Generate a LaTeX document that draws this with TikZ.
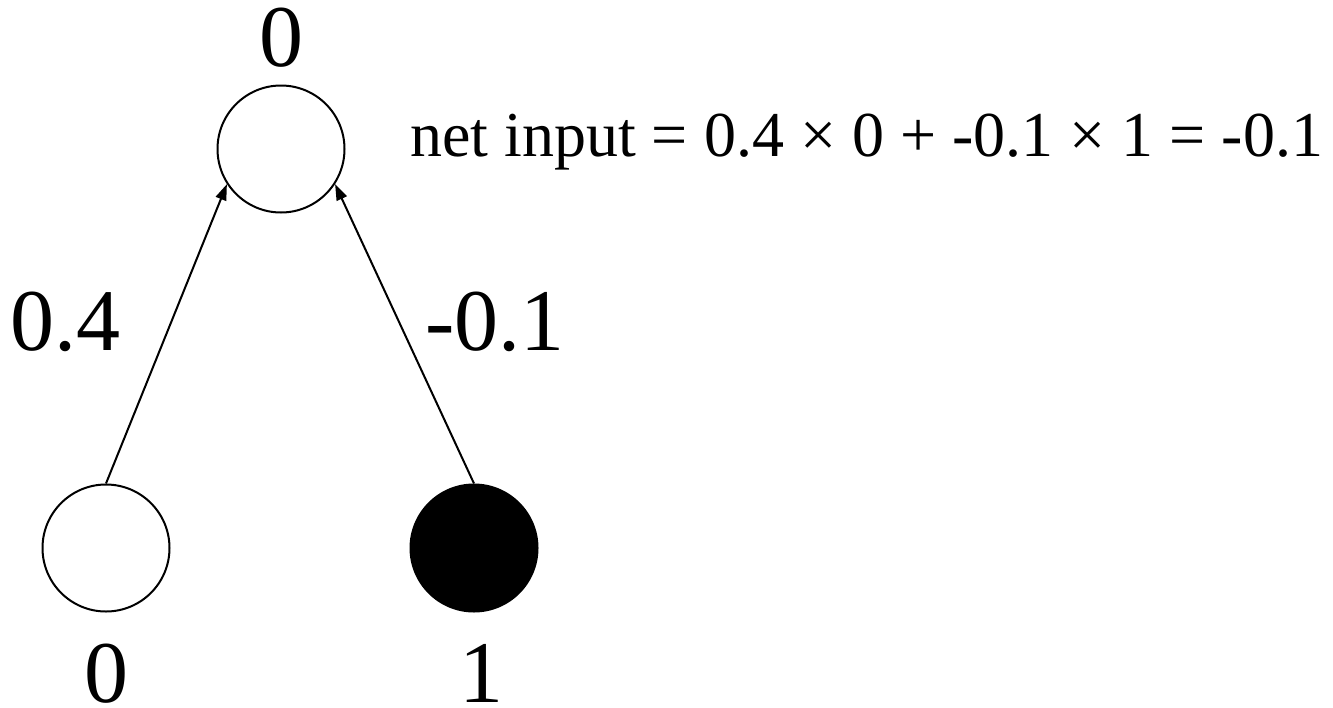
\documentclass[tikz,border=0pt]{standalone}
\usepackage{fontspec}
\setmainfont{Liberation Serif}
\usetikzlibrary{arrows.meta}
\begin{document}
\begin{tikzpicture}[x=1pt,y=-1pt,
  unit/.style={circle,draw,line width=2pt,minimum size=127pt,inner sep=0pt},
  big/.style={inner sep=0pt,font=\fontsize{88}{88}\selectfont},
  eq/.style={inner sep=0pt,font=\fontsize{64}{64}\selectfont},
  conn/.style={line width=2pt,-{Triangle[length=16pt,width=11pt]}}]
\path[use as bounding box,fill=white] (0,0) rectangle (1333,707);
\node[unit] (top) at (281,149) {};
\node[unit] (in0) at (106,548) {};
\node[unit,fill=black] (in1) at (474,548) {};
\node[big,anchor=base] (topval) at (281,66) {0};
\node[big,anchor=base] (val0) at (106,702) {0};
\node[big,anchor=base] (val1) at (481,702) {1};
\node[big,anchor=base] (w0) at (65,350) {0.4};
\node[big,anchor=base] (w1) at (495,350) {-0.1};
\node[eq,anchor=base west] (net) at (410,156) {net input = 0.4 × 0 + -0.1 × 1 = -0.1};
\draw[conn] (in0.north) -- (top.213);
\draw[conn] (in1.north) -- (top.327);
\end{tikzpicture}
\end{document}
